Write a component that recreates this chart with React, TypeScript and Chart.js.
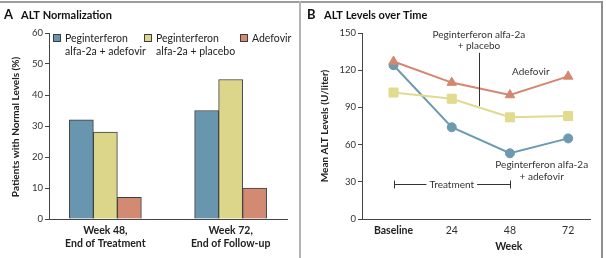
import React, { useEffect, useRef } from 'react';
import { Chart, registerables } from 'chart.js';
Chart.register(...registerables);

const FONT = 'Lato, "Open Sans", "DejaVu Sans", sans-serif';

// ---------- Panel A data ----------
const groupPositions = [0, 1];
const groupLabels = [['Week 48,', 'End of Treatment'], ['Week 72,', 'End of Follow-up']];
const seriesNames = ['Peginterferon alfa-2a + adefovir', 'Peginterferon alfa-2a + placebo', 'Adefovir'];
const legendLines = [['Peginterferon', 'alfa-2a + adefovir'], ['Peginterferon', 'alfa-2a + placebo'], ['Adefovir']];
const comboNormalPct = [32, 35];
const placeboNormalPct = [28, 45];
const adefovirNormalPct = [7, 10];
const yTicksA = [0, 10, 20, 30, 40, 50, 60];

// ---------- Panel B data ----------
const weeks = [0, 24, 48, 72];
const weekLabels = ['Baseline', '24', '48', '72'];
const comboALT = [124, 74, 53, 65];
const placeboALT = [102, 97, 82, 83];
const adefovirALT = [127, 110, 100, 115];
const yTicksB = [0, 30, 60, 90, 120, 150];

const BAR_COLORS = ['#6796ae', '#dcd68b', '#d38a73'];
const LINE_COLORS = { combo: '#6c9ab0', placebo: '#e0db8e', adefovir: '#d4876f' };
const AXIS = '#444';
const TXT = '#222';

function drawPanelTitle(ctx: CanvasRenderingContext2D, letter: string, title: string) {
  ctx.save();
  ctx.fillStyle = '#111';
  ctx.textBaseline = 'alphabetic';
  ctx.textAlign = 'left';
  ctx.font = `bold 13px ${FONT}`;
  ctx.fillText(letter, 4, 19);
  ctx.font = `bold 11px ${FONT}`;
  ctx.fillText(title, 21, 19);
  ctx.restore();
}

function drawYTitle(ctx: CanvasRenderingContext2D, text: string, x: number, y: number) {
  ctx.save();
  ctx.translate(x, y);
  ctx.rotate(-Math.PI / 2);
  ctx.font = `bold 10px ${FONT}`;
  ctx.fillStyle = TXT;
  ctx.textAlign = 'center';
  ctx.textBaseline = 'middle';
  ctx.fillText(text, 0, 0);
  ctx.restore();
}

const panelAPlugin = {
  id: 'panelA',
  afterDraw(chart: any) {
    const ctx = chart.ctx as CanvasRenderingContext2D;
    const area = chart.chartArea;
    drawPanelTitle(ctx, 'A', 'ALT Normalization');
    drawYTitle(ctx, 'Patients with Normal Levels (%)', 15.5, (area.top + area.bottom) / 2 + 1);
    // legend
    const starts = [area.left + 4, area.left + 95, area.left + 191];
    ctx.save();
    ctx.font = `10.5px ${FONT}`;
    ctx.textBaseline = 'middle';
    ctx.textAlign = 'left';
    legendLines.forEach((lines, i) => {
      const x = starts[i];
      ctx.fillStyle = BAR_COLORS[i];
      ctx.fillRect(x, area.top + 1, 8, 8);
      ctx.strokeStyle = '#3d3d3d';
      ctx.lineWidth = 1;
      ctx.strokeRect(x + 0.5, area.top + 1.5, 7, 7);
      ctx.fillStyle = TXT;
      lines.forEach((ln, j) => ctx.fillText(ln, x + 12, area.top + 5.5 + j * 13));
    });
    ctx.restore();
  },
};

const panelBPlugin = {
  id: 'panelB',
  afterDraw(chart: any) {
    const ctx = chart.ctx as CanvasRenderingContext2D;
    const area = chart.chartArea;
    const xs = chart.scales.x;
    const ys = chart.scales.y;
    const X = (v: number) => xs.getPixelForValue(v);
    const Y = (v: number) => ys.getPixelForValue(v);
    drawPanelTitle(ctx, 'B', 'ALT Levels over Time');
    drawYTitle(ctx, 'Mean ALT Levels (U/liter)', 21.5, (area.top + area.bottom) / 2);
    ctx.save();
    ctx.font = `bold 10.5px ${FONT}`;
    ctx.fillStyle = TXT;
    ctx.textAlign = 'center';
    ctx.textBaseline = 'middle';
    ctx.fillText('Week', X(47.5), 247);

    ctx.font = `10px ${FONT}`;
    ctx.fillStyle = '#333';
    // placebo label + leader
    ctx.fillText('Peginterferon alfa-2a', X(35.2), Y(148.8));
    ctx.fillText('+ placebo', X(35.2), Y(139.5));
    ctx.strokeStyle = '#333';
    ctx.lineWidth = 1;
    ctx.beginPath();
    const lx = Math.round(X(35.2)) + 0.5;
    ctx.moveTo(lx, Y(134));
    ctx.lineTo(lx, Y(91));
    ctx.stroke();
    // adefovir label
    ctx.fillText('Adefovir', X(56.6), Y(118.6));
    // combo label
    ctx.fillText('Peginterferon alfa-2a', X(61.1), Y(44));
    ctx.fillText('+ adefovir', X(61.1), Y(34.3));
    // treatment bracket
    const by = Math.round(Y(28.4)) + 0.5;
    const x0 = Math.round(X(0)) + 0.5;
    const x1 = Math.round(X(48)) + 0.5;
    ctx.beginPath();
    ctx.moveTo(x0, by);
    ctx.lineTo(x1, by);
    ctx.moveTo(x0, by - 4);
    ctx.lineTo(x0, by + 4);
    ctx.moveTo(x1, by - 4);
    ctx.lineTo(x1, by + 4);
    ctx.stroke();
    const tx = X(24);
    const tw = ctx.measureText('Treatment').width;
    ctx.fillStyle = '#fff';
    ctx.fillRect(tx - tw / 2 - 3, by - 5, tw + 6, 10);
    ctx.fillStyle = '#333';
    ctx.fillText('Treatment', tx, by);
    ctx.restore();
  },
};

function PanelA() {
  const ref = useRef<HTMLCanvasElement>(null);
  useEffect(() => {
    if (!ref.current) return;
    const series = [comboNormalPct, placeboNormalPct, adefovirNormalPct];
    const chart = new Chart(ref.current, {
      type: 'bar',
      data: {
        datasets: series.map((vals, i) => ({
          label: seriesNames[i],
          data: groupPositions.map((x, k) => ({ x, y: vals[k] })),
          backgroundColor: BAR_COLORS[i],
          borderColor: '#3d3d3d',
          borderWidth: 1,
          barThickness: 24,
        })),
      },
      options: {
        responsive: false,
        animation: false,
        layout: { padding: { top: 33, right: 12, left: 0, bottom: 0 } },
        plugins: { legend: { display: false }, tooltip: { enabled: false } },
        scales: {
          x: {
            type: 'linear',
            min: -0.45,
            max: 1.45,
            offset: false,
            afterBuildTicks: (s: any) => {
              s.ticks = groupPositions.map((v) => ({ value: v }));
            },
            afterFit: (s: any) => {
              s.height = 39;
            },
            grid: { display: false, drawTicks: false, offset: false },
            border: { display: true, color: AXIS, width: 1 },
            ticks: {
              callback: (v: any) => {
                const i = groupPositions.indexOf(v);
                return i >= 0 ? groupLabels[i] : '';
              },
              font: { family: FONT, size: 10.5, weight: 'bold', lineHeight: 1.24 },
              color: TXT,
              padding: 5,
              maxRotation: 0,
              autoSkip: false,
            },
          },
          y: {
            min: 0,
            max: 60,
            afterBuildTicks: (s: any) => {
              s.ticks = yTicksA.map((v) => ({ value: v }));
            },
            afterFit: (s: any) => {
              s.width = 49;
            },
            grid: { drawOnChartArea: false, drawTicks: true, tickLength: 4, color: AXIS },
            border: { display: true, color: AXIS, width: 1 },
            ticks: { font: { family: FONT, size: 9.5 }, color: '#333', padding: 2 },
          },
        },
      } as any,
      plugins: [panelAPlugin],
    });
    return () => chart.destroy();
  }, []);
  return <canvas ref={ref} width={299} height={258} style={{ position: 'absolute', left: 0, top: 0 }} />;
}

function PanelB() {
  const ref = useRef<HTMLCanvasElement>(null);
  useEffect(() => {
    if (!ref.current) return;
    const mk = (label: string, vals: number[], color: string, style: string, r: number) => ({
      label,
      data: weeks.map((x, i) => ({ x, y: vals[i] })),
      borderColor: color,
      backgroundColor: color,
      pointBackgroundColor: color,
      pointBorderColor: color,
      pointStyle: style,
      pointRadius: r,
      pointBorderWidth: 1,
      borderWidth: 2,
      tension: 0,
    });
    const chart = new Chart(ref.current, {
      type: 'line',
      data: {
        datasets: [
          mk(seriesNames[1], placeboALT, LINE_COLORS.placebo, 'rect', 6.4),
          mk(seriesNames[2], adefovirALT, LINE_COLORS.adefovir, 'triangle', 5.5),
          mk(seriesNames[0], comboALT, LINE_COLORS.combo, 'circle', 4.5),
        ],
      },
      options: {
        responsive: false,
        animation: false,
        layout: { padding: { top: 33, right: 11, left: 0, bottom: 0 } },
        plugins: { legend: { display: false }, tooltip: { enabled: false } },
        scales: {
          x: {
            type: 'linear',
            min: -13,
            max: 81,
            afterBuildTicks: (s: any) => {
              s.ticks = weeks.map((v) => ({ value: v }));
            },
            afterFit: (s: any) => {
              s.height = 39;
            },
            grid: { display: false, drawTicks: false },
            border: { display: true, color: AXIS, width: 1 },
            ticks: {
              callback: (v: any) => {
                const i = weeks.indexOf(v);
                return i >= 0 ? weekLabels[i] : '';
              },
              font: (c: any) => ({ family: FONT, size: 10.5, weight: c.index === 0 ? 'bold' : 'normal' }),
              color: (c: any) => (c.index === 0 ? TXT : '#333'),
              padding: 5,
              maxRotation: 0,
              autoSkip: false,
            },
          },
          y: {
            min: 0,
            max: 150,
            afterBuildTicks: (s: any) => {
              s.ticks = yTicksB.map((v) => ({ value: v }));
            },
            afterFit: (s: any) => {
              s.width = 59;
            },
            grid: { drawOnChartArea: false, drawTicks: true, tickLength: 4, color: AXIS },
            border: { display: true, color: AXIS, width: 1 },
            ticks: { font: { family: FONT, size: 9.5 }, color: '#333', padding: 2 },
          },
        },
      } as any,
      plugins: [panelBPlugin],
    });
    return () => chart.destroy();
  }, []);
  return <canvas ref={ref} width={298} height={258} style={{ position: 'absolute', left: 303, top: 0 }} />;
}

export default function App() {
  return (
    <div style={{ position: 'absolute', left: 0, top: 0, width: 606, height: 258, background: '#fff', overflow: 'hidden' }}>
      <PanelA />
      <PanelB />
      <div style={{ position: 'absolute', left: 0, top: 1, width: 603, height: 2, background: '#9c9c9c' }} />
      <div style={{ position: 'absolute', left: 299, top: 1, width: 2, height: 257, background: '#b4b4b4' }} />
      <div style={{ position: 'absolute', left: 601, top: 1, width: 2, height: 257, background: '#8e8e8e' }} />
    </div>
  );
}
